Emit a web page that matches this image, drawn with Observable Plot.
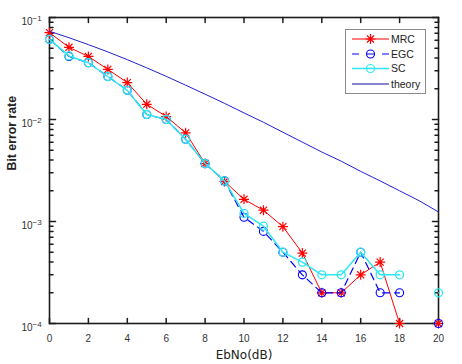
<!DOCTYPE html>
<html>
<head>
<meta charset="utf-8">
<script src="https://cdn.jsdelivr.net/npm/d3@7"></script>
<script src="https://cdn.jsdelivr.net/npm/@observablehq/plot@0.6"></script>
<style>
  html, body { margin: 0; padding: 0; background: #fff; }
  #chart { width: 462px; height: 364px; }
</style>
</head>
<body>
<div id="chart"></div>
<script>
// ---- data ----
const ebno = [0,1,2,3,4,5,6,7,8,9,10,11,12,13,14,15,16,17,18,19,20];
const mrc = [0.071,0.051,0.0415,0.031,0.023,0.0141,0.0107,0.0074,0.0037,0.00247,0.00165,0.00129,0.00089,0.00049,0.0002,0.0002,0.0003,0.0004,0.0001,null,0.0001];
const egc = [0.061,0.0415,0.036,0.0264,0.0193,0.0112,0.0100,0.0064,0.0037,0.0025,0.0011,0.0008,0.0005,0.0003,0.0002,0.0002,0.0005,0.0002,0.0002,null,0.0001];
const sc = [0.061,0.042,0.036,0.0264,0.0193,0.0112,0.0100,0.0064,0.0037,0.0025,0.0012,0.0009,0.0005,0.0004,0.0003,0.0003,0.0005,0.0003,0.0003,null,0.0002];
const theory = [0.0732,0.0634,0.0542,0.0460,0.0386,0.0321,0.0265,0.0217,0.0177,0.0144,0.0116,0.0094,0.0075,0.0060,0.0048,0.0039,0.0031,0.0025,0.0020,0.0016,0.00124];
const seriesNames = ["MRC", "EGC", "SC", "theory"];
const xTicks = [0,2,4,6,8,10,12,14,16,18,20];
const yMajor = [1e-4, 1e-3, 1e-2, 1e-1];
const yMinor = [2,3,4,5,6,7,8,9].flatMap(m => [1e-4, 1e-3, 1e-2].map(d => m * d));
const xLabel = "EbNo(dB)";
const yLabel = "Bit error rate";

const toRows = vals => ebno.map((x, i) => ({x, y: vals[i]}));
const rMRC = toRows(mrc), rEGC = toRows(egc), rSC = toRows(sc), rTh = toRows(theory);

const cRed = "#ff0000", cBlue = "#0000ff", cCyan = "#2ee8f0", cTheory = "#2020d0";
const axisColor = "#1c1c1c";

// 8-arm asterisk like MATLAB '*'
const star = {
  draw(ctx, size) {
    const r = Math.sqrt(size / Math.PI);
    const d = r * Math.SQRT1_2;
    ctx.moveTo(-r, 0); ctx.lineTo(r, 0);
    ctx.moveTo(0, -r); ctx.lineTo(0, r);
    ctx.moveTo(-d, -d); ctx.lineTo(d, d);
    ctx.moveTo(-d, d); ctx.lineTo(d, -d);
  }
};
const tickShape = { draw(ctx, l) { ctx.moveTo(0, 0); ctx.lineTo(0, -l); } };

const font = "'Liberation Sans', Arial, sans-serif";

const chart = Plot.plot({
  width: 462,
  height: 364,
  marginLeft: 49,
  marginRight: 24,
  marginTop: 17,
  marginBottom: 41,
  style: { fontFamily: font, background: "#fff", overflow: "visible" },
  x: { domain: [0, 20], axis: null },
  y: { type: "log", domain: [1e-4, 1e-1], axis: null },
  marks: [
    Plot.frame({ stroke: axisColor, strokeWidth: 1.6 }),
    // inward ticks
    Plot.vector(xTicks, { x: d => d, y: 1e-4, length: 5, rotate: 0, anchor: "start", shape: tickShape, stroke: axisColor, strokeWidth: 1.5 }),
    Plot.vector(xTicks, { x: d => d, y: 1e-1, length: 5, rotate: 180, anchor: "start", shape: tickShape, stroke: axisColor, strokeWidth: 1.5 }),
    Plot.vector(yMajor, { x: 0, y: d => d, length: 6, rotate: 90, anchor: "start", shape: tickShape, stroke: axisColor, strokeWidth: 1.5 }),
    Plot.vector(yMajor, { x: 20, y: d => d, length: 6, rotate: -90, anchor: "start", shape: tickShape, stroke: axisColor, strokeWidth: 1.5 }),
    Plot.vector(yMinor, { x: 0, y: d => d, length: 3.5, rotate: 90, anchor: "start", shape: tickShape, stroke: axisColor, strokeWidth: 1.5 }),
    Plot.vector(yMinor, { x: 20, y: d => d, length: 3.5, rotate: -90, anchor: "start", shape: tickShape, stroke: axisColor, strokeWidth: 1.5 }),
    // tick labels
    Plot.text(xTicks, { x: d => d, y: 1e-4, text: d => String(d), dy: 15, fontSize: 10, fill: "#333" }),
    Plot.text(yMajor, { x: 0, y: d => d, text: () => "10", textAnchor: "end", dx: -17, dy: 4.5, fontSize: 10, fill: "#333" }),
    Plot.text(yMajor, { x: 0, y: d => d, text: d => "\u2212" + Math.round(-Math.log10(d)), textAnchor: "start", dx: -17, dy: 0.5, fontSize: 8, fill: "#333" }),
    // axis titles
    Plot.text([xLabel], { frameAnchor: "bottom", lineAnchor: "middle", text: d => d, dy: 32, fontSize: 12, fontFamily: "'DejaVu Sans', sans-serif", fill: "#222" }),
    Plot.text([yLabel], { frameAnchor: "left", lineAnchor: "middle", text: d => d, rotate: -90, dx: -37, fontSize: 12.3, fontWeight: "bold", fill: "#222" }),
    // data
    Plot.line(rMRC, { x: "x", y: "y", stroke: cRed, strokeWidth: 1 }),
    Plot.dot(rMRC, { x: "x", y: "y", symbol: star, r: 5, stroke: cRed, strokeWidth: 1.2, fill: "none" }),
    Plot.line(rEGC, { x: "x", y: "y", stroke: cBlue, strokeWidth: 1.2, strokeDasharray: "7,5" }),
    Plot.dot(rEGC, { x: "x", y: "y", symbol: "circle", r: 4, stroke: cBlue, strokeWidth: 1.1, fill: "none" }),
    Plot.line(rSC, { x: "x", y: "y", stroke: cCyan, strokeWidth: 1.5 }),
    Plot.dot(rSC, { x: "x", y: "y", symbol: "circle", r: 4, stroke: cCyan, strokeWidth: 1.3, fill: "none" }),
    Plot.line(rTh, { x: "x", y: "y", stroke: cTheory, strokeWidth: 1 })
  ]
});

// legend box (MATLAB-style, inside the axes, top right)
const svg = d3.select(chart);
const lg = svg.append("g").attr("font-family", font).attr("font-size", 10.5).attr("text-anchor", "start");
lg.append("rect").attr("x", 345.5).attr("y", 29.5).attr("width", 80).attr("height", 64)
  .attr("fill", "#fff").attr("stroke", "#8a8a8a").attr("stroke-width", 1);
const rowsY = [39, 54, 68.5, 84];
const x0 = 352, x1 = 389, xm = 370.5, xt = 391;
const legColors = [cRed, cBlue, cCyan, "#10109a"];
seriesNames.forEach((name, i) => {
  const y = rowsY[i];
  const line = lg.append("line").attr("x1", x0).attr("x2", x1).attr("y1", y).attr("y2", y)
    .attr("stroke", legColors[i]).attr("stroke-width", i === 2 ? 1.5 : 1.1);
  if (i === 1) line.attr("stroke-dasharray", "7,8");
  if (i === 0) {
    const p = d3.path(); star.draw(p, 25 * Math.PI);
    lg.append("path").attr("d", p.toString()).attr("transform", `translate(${xm},${y})`)
      .attr("stroke", cRed).attr("stroke-width", 1.2).attr("fill", "none");
  } else if (i < 3) {
    lg.append("circle").attr("cx", xm).attr("cy", y).attr("r", 4).attr("fill", "none")
      .attr("stroke", legColors[i]).attr("stroke-width", 1.1);
  }
  lg.append("text").attr("x", xt).attr("y", y).attr("dy", "0.35em").attr("fill", "#222").text(name);
});

document.getElementById("chart").appendChild(chart);
</script>
</body>
</html>
